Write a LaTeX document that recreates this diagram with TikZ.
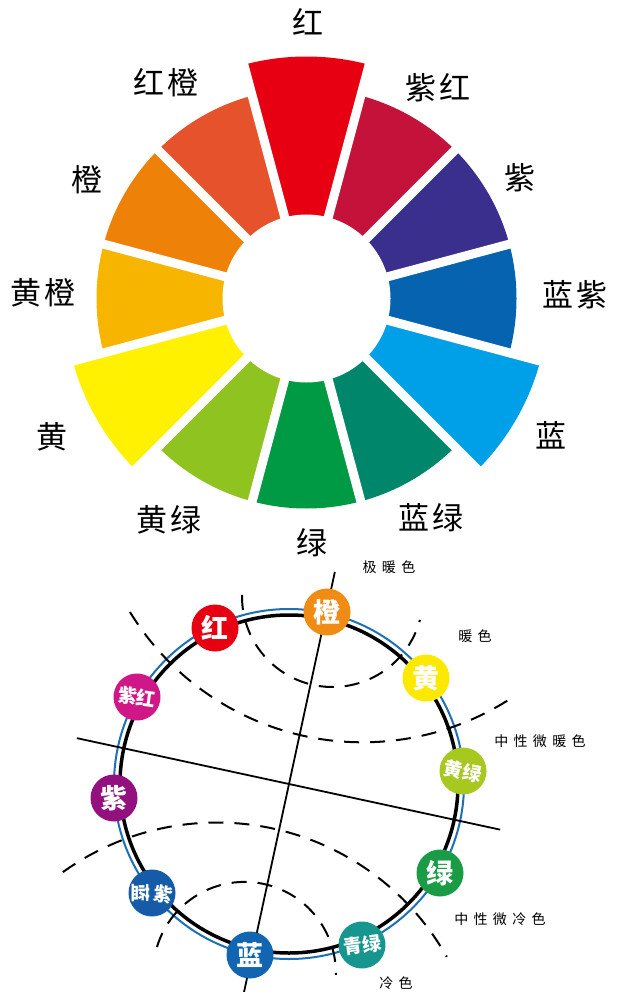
\documentclass[tikz,border=0pt]{standalone}
\usepackage{fontspec}
\newfontfamily\cjk{Noto Sans CJK SC}
\newfontfamily\cjkbig[LetterSpace=8]{Noto Sans CJK SC}
\newfontfamily\cjksmall[LetterSpace=38]{Noto Sans CJK SC}
\usetikzlibrary{calc}
\definecolor{wRed}{HTML}{E60012}
\definecolor{wMag}{HTML}{C4123B}
\definecolor{wVio}{HTML}{3A2F8D}
\definecolor{wBV}{HTML}{0563AF}
\definecolor{wBlue}{HTML}{00A0E9}
\definecolor{wBG}{HTML}{00876B}
\definecolor{wGreen}{HTML}{009A44}
\definecolor{wYG}{HTML}{8FC31F}
\definecolor{wYel}{HTML}{FFF100}
\definecolor{wYO}{HTML}{F8B500}
\definecolor{wOr}{HTML}{EE8209}
\definecolor{wRO}{HTML}{E6522C}
\definecolor{dOr}{HTML}{F08C14}
\definecolor{dRed}{HTML}{E60012}
\definecolor{dMag}{HTML}{CF1788}
\definecolor{dVio}{HTML}{93117E}
\definecolor{dBV}{HTML}{155BA8}
\definecolor{dBlue}{HTML}{1266B1}
\definecolor{dTeal}{HTML}{16968E}
\definecolor{dGreen}{HTML}{1A9B45}
\definecolor{dYG}{HTML}{A6C81F}
\definecolor{dYel}{HTML}{FDE800}
\definecolor{ringblue}{HTML}{1F6FB5}
\tikzset{
  biglabel/.style={font=\cjkbig\fontsize{31}{31}\selectfont, text=black, inner sep=0pt},
  smalllabel/.style={font=\cjksmall\fontsize{14}{14}\selectfont, text=black, inner sep=0pt},
  dot/.style={circle, fill=#1, minimum size=47pt, inner sep=0pt, text=white},
  one/.style={font=\cjk\bfseries\fontsize{27}{27}\selectfont},
  two/.style={font=\cjk\bfseries\fontsize{19}{19}\selectfont},
  dashline/.style={line width=2pt, dash pattern=on 15pt off 11pt},
  axisline/.style={line width=1.8pt},
}
\begin{document}
\begin{tikzpicture}[x=1pt,y=-1pt]
\useasboundingbox (0,0) rectangle (616,992);
% ---------------- colour wheel ----------------
\coordinate (W) at (306.5,298.5);
\foreach \a/\c/\r in {-90/wRed/242,-60/wMag/210,-30/wVio/210,0/wBV/210,30/wBlue/242,60/wBG/210,90/wGreen/210,120/wYG/210,150/wYel/242,180/wYO/210,210/wOr/210,240/wRO/210}{
  \fill[\c] (W) -- ++({\a-15}:\r) arc[start angle={\a-15}, end angle={\a+15}, radius=\r] -- cycle;
}
\foreach \b in {-105,-75,-45,-15,15,45,75,105,135,165,195,225}{
  \draw[white, line width=9pt] (W) -- ++(\b:262);
}
\fill[white] (W) circle (84);
\node[biglabel] (lR)  at (308,22)  {红};
\node[biglabel] (lRO) at (166,83)  {红橙};
\node[biglabel] (lM)  at (438,88)  {紫红};
\node[biglabel] (lO)  at (87,180)  {橙};
\node[biglabel] (lV)  at (520,178) {紫};
\node[biglabel] (lYO) at (43,293)  {黄橙};
\node[biglabel] (lBV) at (575,295) {蓝紫};
\node[biglabel] (lY)  at (52,437)  {黄};
\node[biglabel] (lB)  at (551,435) {蓝};
\node[biglabel] (lYG) at (169,520) {黄绿};
\node[biglabel] (lBG) at (431,518) {蓝绿};
\node[biglabel] (lG)  at (312,543) {绿};
% ---------------- temperature circle ----------------
\coordinate (O) at (289,784);
\draw[ringblue, line width=2pt] (O) circle (175);
\draw[black, line width=3.5pt] (O) circle (169);
% axes
\coordinate (a1) at ($(O)+(-77.8:217)$);
\coordinate (a2) at ($(O)+(102.2:214)$);
\coordinate (b1) at ($(O)+(192.2:217)$);
\coordinate (b2) at ($(O)+(12.2:216)$);
\draw[axisline] (a1) -- (a2);
\draw[axisline] (b1) -- (b2);
% dashed boundaries
\coordinate (C1) at (332.5,596.5);
\coordinate (C2) at (362.5,469.6);
\coordinate (C3) at (216.9,1086.4);
\coordinate (C4) at (244.5,973.3);
\draw[dashline] (C1) ++(181:90.5) arc[start angle=181, end angle=15, radius=90.5];
\draw[dashline] (C2) ++(148.5:272.7) arc[start angle=148.5, end angle=56.5, radius=272.7];
\draw[dashline] (C3) ++(-125.7:263.9) arc[start angle=-125.7, end angle=-29.4, radius=263.9];
\draw[dashline] (C4) ++(-163.3:91.4) arc[start angle=-163.3, end angle=1, radius=91.4];
% colour dots
\node[dot=dOr, one]   (dO)  at (327,612) {橙};
\node[dot=dRed, one]  (dR)  at (215,628) {红};
\node[dot=dMag, two, rotate=-8] (dM) at (137,697) {紫红};
\node[dot=dVio, one]  (dV)  at (114,798) {紫};
\node[dot=dBV] (dBVc) at (152,893) {};
\node[two, text=white, rotate=-90, inner sep=0pt] (dBV1) at (141,893) {蓝};
\node[two, text=white, rotate=-12, inner sep=0pt] (dBV2) at (163,894) {紫};
\node[dot=dBlue, one] (dB)  at (250,955) {蓝};
\node[dot=dTeal, two, rotate=8] (dT) at (362,945) {青绿};
\node[dot=dGreen, one] (dG) at (440,873) {绿};
\node[dot=dYG, two, rotate=-12] (dYGc) at (463,771) {黄绿};
\node[dot=dYel, one]  (dY)  at (426,678) {黄};
% zone labels
\node[smalllabel] (t1) at (389,567) {极暖色};
\node[smalllabel] (t2) at (475,636) {暖色};
\node[smalllabel] (t3) at (540,741) {中性微暖色};
\node[smalllabel] (t4) at (500,919) {中性微冷色};
\node[smalllabel] (t5) at (396,983) {冷色};
\end{tikzpicture}
\end{document}
